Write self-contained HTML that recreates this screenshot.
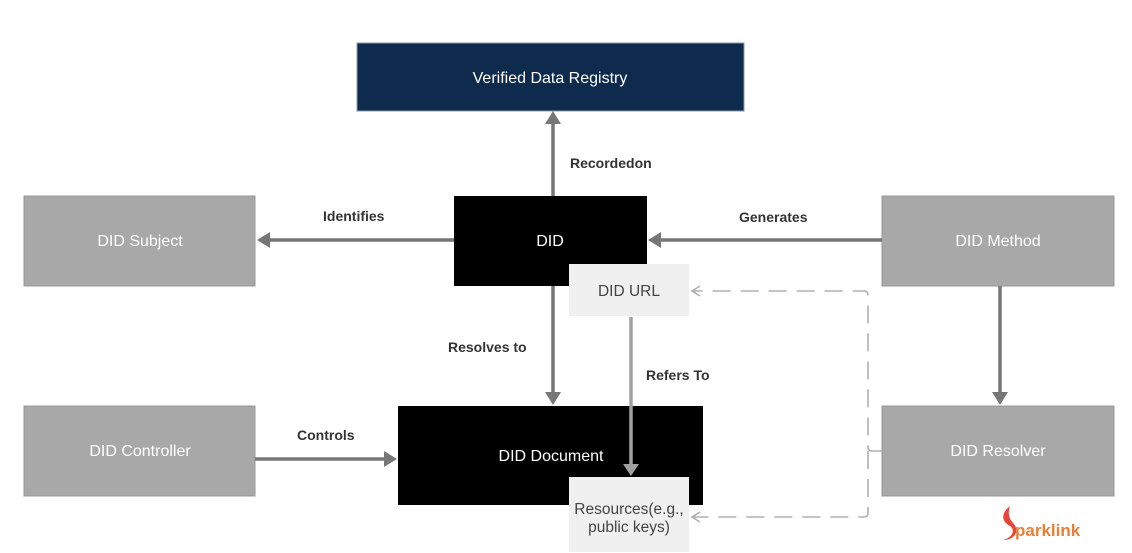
<!DOCTYPE html>
<html><head><meta charset="utf-8"><style>
html,body{margin:0;padding:0;background:#fff;}
svg{display:block;font-family:"Liberation Sans",Arial,sans-serif;}
</style></head><body>
<svg width="1132" height="553" viewBox="0 0 1132 553" xmlns="http://www.w3.org/2000/svg">
<rect width="1132" height="553" fill="#fff"/>
<rect x="357" y="43" width="387" height="68" fill="#0e2a4c" stroke="#8a98a8" stroke-width="1"/>
<rect x="24" y="196" width="231" height="90" fill="#a8a8a8" stroke="#999" stroke-width="1"/>
<rect x="454" y="196" width="193" height="90" fill="#000"/>
<rect x="882" y="196" width="232" height="90" fill="#a8a8a8" stroke="#999" stroke-width="1"/>
<rect x="24" y="406" width="231" height="90" fill="#a8a8a8" stroke="#999" stroke-width="1"/>
<rect x="398" y="406" width="305" height="99" fill="#000"/>
<rect x="882" y="406" width="232" height="90" fill="#a8a8a8" stroke="#999" stroke-width="1"/>
<rect x="569" y="264" width="120" height="52" fill="#f0f0f0"/>
<rect x="569" y="477" width="120" height="75" fill="#f0f0f0"/>
<g stroke="#777" stroke-width="3.5" fill="none">
<line x1="553" y1="196" x2="553" y2="122"/>
<line x1="454" y1="240" x2="268" y2="240"/>
<line x1="882" y1="240" x2="660" y2="240"/>
<line x1="553" y1="286" x2="553" y2="394"/>
<line x1="255" y1="459" x2="386" y2="459"/>
<line x1="1000" y1="286" x2="1000" y2="394"/>
</g>
<g fill="#777">
<polygon points="553,111 545,124 561,124"/>
<polygon points="257,240 270,232 270,248"/>
<polygon points="648,240 661,232 661,248"/>
<polygon points="553,405 545,392 561,392"/>
<polygon points="397,459 384,451 384,467"/>
<polygon points="1000,405 992,392 1008,392"/>
</g>
<line x1="631" y1="317" x2="631" y2="464" stroke="#a0a0a0" stroke-width="3.5"/>
<polygon points="631,476 623,464 639,464" fill="#a0a0a0"/>
<g stroke="#b0b0b0" stroke-width="1.6" fill="none">
<path d="M882,451 H872 Q868,451 868,447 V295 Q868,291 864,291 H692" stroke-dasharray="18,10"/>
<path d="M868,451 V513 Q868,517 864,517 H692" stroke-dasharray="18,10"/>
<path d="M700,286 L692,291 L700,296"/>
<path d="M700,512 L692,517 L700,522"/>
</g>
<g font-size="16" text-anchor="middle" fill="#fff">
<text x="550" y="83">Verified Data Registry</text>
<text x="140" y="246">DID Subject</text>
<text x="550" y="246">DID</text>
<text x="998" y="246">DID Method</text>
<text x="140" y="456">DID Controller</text>
<text x="551" y="461">DID Document</text>
<text x="998" y="456">DID Resolver</text>
</g>
<g font-size="15.5" text-anchor="middle" fill="#444">
<text x="629" y="296">DID URL</text>
<text x="629" y="514">Resources(e.g.,</text>
<text x="629" y="532">public keys)</text>
</g>
<g font-size="14" font-weight="bold" fill="#333">
<text x="570" y="168">Recordedon</text>
<text x="323" y="221">Identifies</text>
<text x="739" y="222">Generates</text>
<text x="448" y="352">Resolves to</text>
<text x="646" y="380">Refers To</text>
<text x="297" y="440">Controls</text>
</g>
<path d="M1010,506 C1000,514 1002,522 1010,526 C1016,530 1012,538 1003,540 C1014,540 1020,532 1014,524 C1008,518 1008,512 1010,506 Z" fill="#e8453a"/>
<text x="1015" y="536" font-size="17" font-weight="bold" fill="#e8803a">parklink</text>
</svg>
</body></html>
